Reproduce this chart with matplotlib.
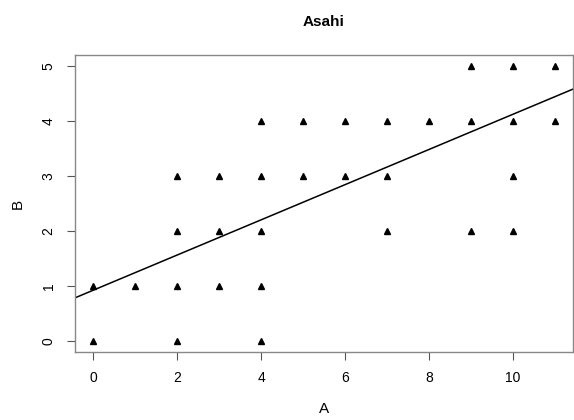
import matplotlib
matplotlib.use("Agg")
import matplotlib.pyplot as plt

plt.rcParams['font.family'] = ['Liberation Sans', 'DejaVu Sans']

# data
A = [0, 0, 1, 2, 2, 2, 2, 3, 3, 3, 4, 4, 4, 4, 4, 5, 5, 6, 6, 7, 7, 7, 8,
     9, 9, 9, 10, 10, 10, 10, 11, 11]
B = [0, 1, 1, 0, 1, 2, 3, 1, 2, 3, 0, 1, 2, 3, 4, 3, 4, 3, 4, 2, 3, 4, 4,
     2, 4, 5, 2, 3, 4, 5, 4, 5]
fit_intercept = 0.925
fit_slope = 0.3195

fig = plt.figure(figsize=(5.74, 4.2), dpi=100)
ax = fig.add_axes([75 / 574, 68 / 420, 498 / 574, 297 / 420])

ax.plot(A, B, linestyle='none', marker='^', markersize=4.6, color='black')
ax.axline((0, fit_intercept), slope=fit_slope, color='black', linewidth=1.1)

ax.set_xlim(-0.44, 11.44)
ax.set_ylim(-0.2, 5.2)
ax.set_xticks([0, 2, 4, 6, 8, 10])
ax.set_yticks([0, 1, 2, 3, 4, 5])
for lbl in ax.get_yticklabels():
    lbl.set_rotation(90)
    lbl.set_va('center')
ax.tick_params(direction='out', length=6, width=0.8, color='#555555',
               labelsize=10, pad=8)
for s in ax.spines.values():
    s.set_color('#888888')
    s.set_linewidth(1)

ax.set_xlabel('A', fontsize=11, labelpad=12)
ax.set_ylabel('B', fontsize=11, labelpad=12)
ax.set_title('Asahi', fontsize=11, fontweight='bold', pad=21)

fig.savefig('out.png', dpi=100)
